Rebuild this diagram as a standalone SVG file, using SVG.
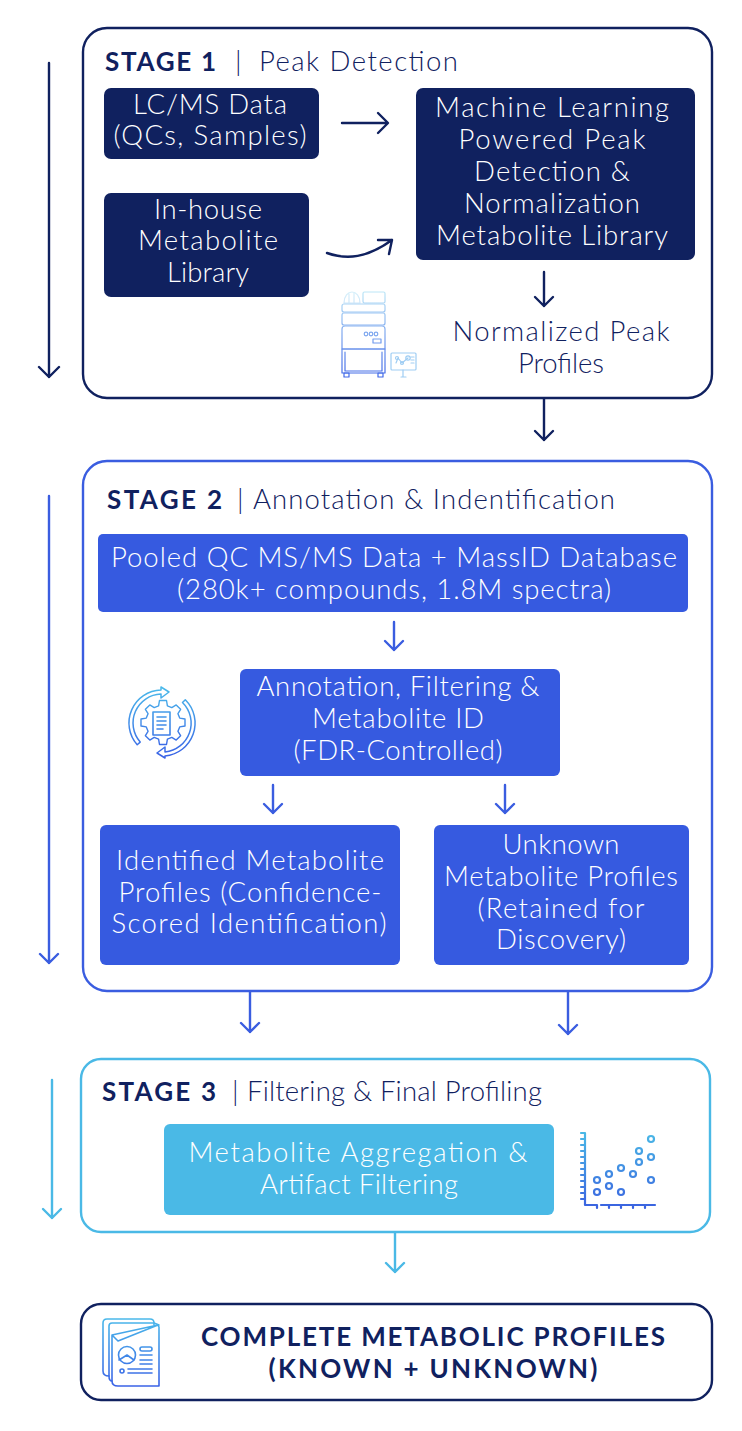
<svg xmlns="http://www.w3.org/2000/svg" width="742" height="1431" viewBox="0 0 742 1431">
<style>
text{font-family:"Lato","Open Sans","Liberation Sans",sans-serif;font-size:27.5px;font-weight:300;text-anchor:middle}
.w{fill:#fff}.n{fill:#10215f}
.h{font-weight:700;font-size:26px;text-anchor:start}
.s{text-anchor:start}
.f{font-weight:700;font-size:26px}
.frame{fill:#fff;stroke-width:2.4}
.c{fill:none;stroke-width:2.4;stroke-linecap:round;stroke-linejoin:round}
.navy{stroke:#10215f}
.ic{fill:none;stroke-width:1.6;stroke-linecap:round;stroke-linejoin:round}
</style>
<defs>
<linearGradient id="g1" gradientUnits="userSpaceOnUse" x1="0" y1="290" x2="0" y2="380"><stop offset="0" stop-color="#bfe9f7"/><stop offset="1" stop-color="#3a62e6"/></linearGradient>
<linearGradient id="g2" gradientUnits="userSpaceOnUse" x1="0" y1="688" x2="0" y2="758"><stop offset="0" stop-color="#4ab9ea"/><stop offset="1" stop-color="#3a62e6"/></linearGradient>
<linearGradient id="g3" gradientUnits="userSpaceOnUse" x1="0" y1="1132" x2="0" y2="1208"><stop offset="0" stop-color="#4ab9e6"/><stop offset="1" stop-color="#3a62e0"/></linearGradient>
<linearGradient id="g4" gradientUnits="userSpaceOnUse" x1="0" y1="1318" x2="0" y2="1386"><stop offset="0" stop-color="#4ab9ea"/><stop offset="1" stop-color="#3a62e6"/></linearGradient>
</defs>

<g id="stage1">
<rect class="frame navy" x="83" y="28" width="629" height="370" rx="24"/>
<text class="h n" x="105" y="71" textLength="111">STAGE 1</text>
<text class="s n" x="235" y="71">|</text>
<text class="s n" x="259" y="71" textLength="199">Peak Detection</text>
</g>
<g id="lcms">
<rect x="104" y="88" width="215" height="71" rx="7" fill="#10215f"/>
<text class="w" x="210" y="114" textLength="154">LC/MS Data</text>
<text class="w" x="210" y="145" textLength="193">(QCs, Samples)</text>
</g>
<g id="library">
<rect x="104" y="193" width="205" height="104" rx="7" fill="#10215f"/>
<text class="w" x="208" y="219" textLength="108">In-house</text>
<text class="w" x="208" y="250" textLength="140">Metabolite</text>
<text class="w" x="208" y="282" textLength="82">Library</text>
</g>
<g id="ml">
<rect x="416" y="88" width="279" height="172" rx="7" fill="#10215f"/>
<text class="w" x="552" y="117" textLength="234">Machine Learning</text>
<text class="w" x="552" y="149" textLength="187">Powered Peak</text>
<text class="w" x="552" y="181" textLength="156">Detection &amp;</text>
<text class="w" x="552" y="213" textLength="176">Normalization</text>
<text class="w" x="552" y="245" textLength="232">Metabolite Library</text>
</g>
<g id="normalized">
<text class="n" x="561" y="341" textLength="217">Normalized Peak</text>
<text class="n" x="561" y="373" textLength="86">Profiles</text>
</g>
<g id="instrument" class="ic" stroke="url(#g1)" style="stroke-width:1.2">
<rect x="363" y="292" width="22" height="11" rx="1.5"/>
<path d="M344 303c0-7 4-11 8-11s8 4 8 11M349 303v-9M354 303v-10M344 303h16" stroke-opacity=".6"/>
<rect x="342" y="304" width="43" height="8" rx="2"/>
<rect x="342" y="313" width="43" height="12" rx="2"/>
<path d="M342 349v-20q0-3 3-3h37q3 0 3 3v20z"/>
<circle cx="366" cy="334" r="1.8"/><circle cx="371" cy="334" r="1.8"/><circle cx="376" cy="334" r="1.8"/>
<rect x="373" y="339" width="8" height="4"/>
<path d="M342 349h43v24h-43zM345 352v19h37v-19"/>
<rect x="344" y="373" width="5" height="4"/><rect x="378" y="373" width="5" height="4"/>
<g stroke="#9fcdf3">
<rect x="391" y="353" width="25" height="17" rx="1"/>
<path d="M398 358l4 5 6-5M396 363l2-5M401 377h5M403 370v7M411 357h3M411 360h3M411 363h3"/>
<circle cx="397" cy="358" r="1.5"/><circle cx="402" cy="363" r="1.5"/><circle cx="408" cy="358" r="2.2"/>
</g>
</g>

<g id="stage2">
<rect class="frame" stroke="#3a5de0" x="83" y="461" width="629" height="530" rx="24"/>
<text class="h n" x="107" y="509" textLength="115">STAGE 2</text>
<text class="s n" x="237" y="509">|</text>
<text class="s n" x="253" y="509" textLength="362">Annotation &amp; Indentification</text>
</g>
<g id="pooled">
<rect x="98" y="534" width="590" height="78" rx="5" fill="#365ae0"/>
<text class="w" x="394" y="567" textLength="566">Pooled QC MS/MS Data + MassID Database</text>
<text class="w" x="394" y="599" textLength="434">(280k+ compounds, 1.8M spectra)</text>
</g>
<g id="annotation">
<rect x="240" y="669" width="320" height="107" rx="6" fill="#365ae0"/>
<text class="w" x="398" y="696" textLength="283">Annotation, Filtering &amp;</text>
<text class="w" x="398" y="728" textLength="172">Metabolite ID</text>
<text class="w" x="398" y="760" textLength="209">(FDR-Controlled)</text>
</g>
<g id="gear" class="ic" stroke="url(#g2)">
<path d="M137.2 744.8A33 33 0 0 1 161 690V687L169 692 161 698V694A29 29 0 0 0 140.2 742.1Z" stroke-width="1.5"/>
<path d="M185.3 699.7A33 33 0 0 1 165 756V758L157 753 165 747V752A29 29 0 0 0 182.5 702.5Z" stroke-width="1.5"/>
<path transform="translate(163 722.5) scale(.88) translate(-161 -725)" d="M157 700h8l1 6 5 2 5-3 5 5-3 5 2 5 6 1v8l-6 1-2 5 3 5-5 5-5-3-5 2-1 6h-8l-1-6-5-2-5 3-5-5 3-5-2-5-6-1v-8l6-1 2-5-3-5 5-5 5 3 5-2z"/>
<rect x="153" y="712" width="17" height="23" fill="#fff"/>
<path d="M157 717h9M157 721h9M157 725h9M157 729h6"/>
</g>
<g id="identified">
<rect x="100" y="825" width="300" height="140" rx="6" fill="#365ae0"/>
<text class="w" x="250" y="870" textLength="268">Identified Metabolite</text>
<text class="w" x="250" y="902" textLength="263">Profiles (Confidence-</text>
<text class="w" x="249" y="933" textLength="275">Scored Identification)</text>
</g>
<g id="unknown">
<rect x="434" y="825" width="255" height="140" rx="6" fill="#365ae0"/>
<text class="w" x="561" y="854" textLength="117">Unknown</text>
<text class="w" x="561" y="886" textLength="234">Metabolite Profiles</text>
<text class="w" x="561" y="918" textLength="167">(Retained for</text>
<text class="w" x="561" y="949" textLength="130">Discovery)</text>
</g>

<g id="stage3">
<rect class="frame" stroke="#4ab9e6" x="81" y="1059" width="629" height="173" rx="20"/>
<text class="h n" x="102" y="1101" textLength="114">STAGE 3</text>
<text class="s n" x="232" y="1101">|</text>
<text class="s n" x="247" y="1101" textLength="295">Filtering &amp; Final Profiling</text>
</g>
<g id="aggregation">
<rect x="164" y="1124" width="390" height="91" rx="6" fill="#4ab9e6"/>
<text class="w" x="358" y="1162" textLength="339">Metabolite Aggregation &amp;</text>
<text class="w" x="359" y="1194" textLength="198">Artifact Filtering</text>
</g>
<g id="scatter" class="ic" stroke="url(#g3)" style="stroke-width:2.2">
<path d="M585 1133v72h12v3M601 1205h54M581 1133h4M581 1139h4M581 1145h4M581 1151h4M581 1157h4M581 1163h4M581 1169h4M581 1175h4M581 1181h4M581 1187h4M581 1193h4M581 1199h4M609 1205v3M621 1205v3M633 1205v3M645 1205v3"/>
<circle cx="597" cy="1180" r="3"/><circle cx="597" cy="1192" r="3"/><circle cx="609" cy="1174" r="3"/><circle cx="609" cy="1186" r="3"/><circle cx="621" cy="1168" r="3"/><circle cx="621" cy="1192" r="3"/><circle cx="633" cy="1174" r="3"/><circle cx="639" cy="1162" r="3"/><circle cx="639" cy="1151" r="3"/><circle cx="651" cy="1139" r="3"/><circle cx="651" cy="1157" r="3"/><circle cx="651" cy="1180" r="3"/>
</g>

<g id="final">
<rect class="frame navy" x="81" y="1304" width="631" height="96" rx="20"/>
<text class="f n" x="433" y="1346" textLength="464">COMPLETE METABOLIC PROFILES</text>
<text class="f n" x="433" y="1378" textLength="329">(KNOWN + UNKNOWN)</text>
</g>
<g id="report" class="ic" stroke="url(#g4)">
<path d="M109 1376q-6 0-6-5v-48q0-4 4-4h43q4 0 4 4v2"/>
<path d="M112 1381q-3 0-3-5v-50q0-3 3-3h42l5 2"/>
<path d="M118 1386q-6 0-6-5v-46l46-10 1 2v59zM112 1335l6 6 40-16"/>
<circle cx="127" cy="1355" r="8.5"/><path d="M119 1360l8-5 7 5"/>
<rect x="140" y="1347" width="12" height="4" rx="2"/>
<path d="M140 1355h12M140 1360h12M140 1364h12M128 1369h24M128 1373h24"/>
<circle cx="122" cy="1371" r="2"/>
</g>

<g id="connectors" class="c">
<g stroke="#10215f">
<path d="M49 63V377M39 367l10 10 10-10"/>
<path d="M342 123h45M378 113l10 10-10 10"/>
<path d="M327 253c20 7 40 5 65-13M378 240h14l-3 14"/>
<path d="M544 272v34M535 297l9 9 9-9"/>
<path d="M544 399v41M535 431l9 9 9-9"/>
</g>
<g stroke="#3a5de0">
<path d="M49 496V963M40 954l9 9 9-9"/>
<path d="M394 622v28M385 641l9 9 9-9"/>
<path d="M273 785v28M264 804l9 9 9-9"/>
<path d="M505 785v28M496 804l9 9 9-9"/>
<path d="M250 992v40M241 1023l9 9 9-9"/>
<path d="M568 992v42M559 1025l9 9 9-9"/>
</g>
<g stroke="#4ab9e6">
<path d="M52 1080V1218M43 1209l9 9 9-9"/>
<path d="M395 1233v39M386 1263l9 9 9-9"/>
</g>
</g>
</svg>
